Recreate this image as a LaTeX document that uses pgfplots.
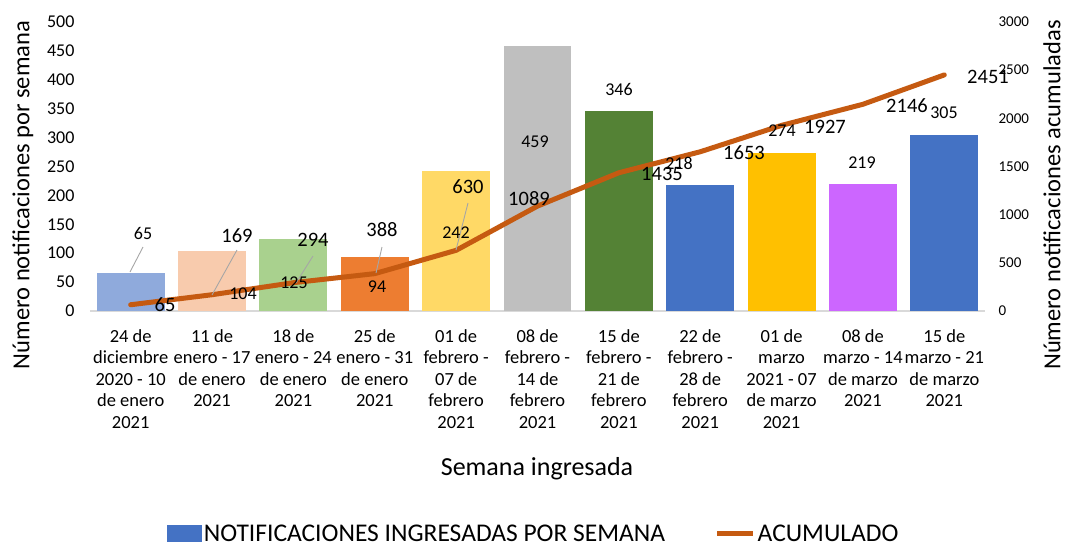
\documentclass[border=0pt]{standalone}
\usepackage{pgfplots}
\pgfplotsset{compat=1.18}
\usepackage{fontspec}
\setmainfont{Carlito}
\definecolor{c1}{HTML}{8FAADC}
\definecolor{c2}{HTML}{F8CBAD}
\definecolor{c3}{HTML}{A9D18E}
\definecolor{c4}{HTML}{ED7D31}
\definecolor{c5}{HTML}{FFD966}
\definecolor{c6}{HTML}{BFBFBF}
\definecolor{c7}{HTML}{548235}
\definecolor{c8}{HTML}{4472C4}
\definecolor{c9}{HTML}{FFC000}
\definecolor{c10}{HTML}{CC66FF}
\definecolor{acum}{HTML}{C55A11}
\definecolor{leader}{HTML}{A6A6A6}

% label helpers, positions in picture pixels (origin top left)
\newcommand{\barlbl}[3]{\node[font=\fontsize{18}{20}\selectfont] at ({#1-90},{311-#2}) {#3};}
\newcommand{\acclbl}[3]{\node[font=\fontsize{20.5}{22}\selectfont] at ({#1-90},{311-#2}) {#3};}
\newcommand{\leader}[4]{\draw[leader, line width=0.9pt] ({#1-90},{311-#2}) -- ({#3-90},{311-#4});}

\begin{document}
\begin{tikzpicture}
\useasboundingbox (-90pt,-231pt) rectangle (977pt,311pt);
\begin{axis}[
  at={(0pt,0pt)}, anchor=south west,
  width=895pt, height=289pt, scale only axis,
  xmin=-0.5, xmax=10.5, ymin=0, ymax=500,
  ytick={0,50,...,500},
  xtick={0,...,10},
  xticklabels={{24 de\\diciembre\\2020 - 10\\de enero\\2021},
    {11 de\\enero - 17\\de enero\\2021},
    {18 de\\enero - 24\\de enero\\2021},
    {25 de\\enero - 31\\de enero\\2021},
    {01 de\\febrero -\\07 de\\febrero\\2021},
    {08 de\\febrero -\\14 de\\febrero\\2021},
    {15 de\\febrero -\\21 de\\febrero\\2021},
    {22 de\\febrero -\\28 de\\febrero\\2021},
    {01 de\\marzo\\2021 - 07\\de marzo\\2021},
    {08 de\\marzo - 14\\de marzo\\2021},
    {15 de\\marzo - 21\\de marzo\\2021}},
  xticklabel style={align=center, font=\fontsize{18.5}{21.5}\selectfont, yshift=-15pt},
  yticklabel style={font=\fontsize{18}{20}\selectfont, xshift=-12pt},
  /pgf/number format/assume math mode=true,
  axis line style={draw=none},
  tick style={draw=none},
  legend style={at={(0.496,-0.77)}, anchor=center, draw=none, fill=none,
    legend columns=2, font=\fontsize{25.5}{28}\selectfont,
    /tikz/every even column/.append style={column sep=48pt}},
  legend cell align=left,
]
\draw[black!15, line width=1.2pt] (rel axis cs:0,0) -- (rel axis cs:1,0);
\addplot[ybar, bar width=0.835, bar shift=0pt, fill=c1, draw=none, forget plot] coordinates {(0,65)};
\addplot[ybar, bar width=0.835, bar shift=0pt, fill=c2, draw=none, forget plot] coordinates {(1,104)};
\addplot[ybar, bar width=0.835, bar shift=0pt, fill=c3, draw=none, forget plot] coordinates {(2,125)};
\addplot[ybar, bar width=0.835, bar shift=0pt, fill=c4, draw=none, forget plot] coordinates {(3,94)};
\addplot[ybar, bar width=0.835, bar shift=0pt, fill=c5, draw=none, forget plot] coordinates {(4,242)};
\addplot[ybar, bar width=0.835, bar shift=0pt, fill=c6, draw=none, forget plot] coordinates {(5,459)};
\addplot[ybar, bar width=0.835, bar shift=0pt, fill=c7, draw=none, forget plot] coordinates {(6,346)};
\addplot[ybar, bar width=0.835, bar shift=0pt, fill=c8, draw=none, forget plot] coordinates {(7,218)};
\addplot[ybar, bar width=0.835, bar shift=0pt, fill=c9, draw=none, forget plot] coordinates {(8,274)};
\addplot[ybar, bar width=0.835, bar shift=0pt, fill=c10, draw=none, forget plot] coordinates {(9,219)};
\addplot[ybar, bar width=0.835, bar shift=0pt, fill=c8, draw=none, forget plot] coordinates {(10,305)};
\addlegendimage{legend image code/.code={\fill[c8] (0pt,-8pt) rectangle (34pt,8pt);}}
\addlegendentry{NOTIFICACIONES INGRESADAS POR SEMANA}
\addlegendimage{legend image code/.code={\draw[acum, line width=4.5pt] (0pt,0pt) -- (36pt,0pt);}}
\addlegendentry{ACUMULADO}
\end{axis}
\begin{axis}[
  at={(0pt,0pt)}, anchor=south west,
  width=895pt, height=289pt, scale only axis,
  xmin=-0.5, xmax=10.5, ymin=0, ymax=3000,
  ytick={0,500,...,3000},
  hide x axis,
  axis y line*=right,
  y axis line style={draw=none},
  tick style={draw=none},
  yticklabel style={font=\fontsize{15}{18}\selectfont, anchor=west, xshift=10pt},
  /pgf/number format/assume math mode=true,
  /pgf/number format/1000 sep={},
]
\addplot[acum, line width=5pt, line join=round, line cap=round] coordinates {
  (0,65) (1,169) (2,294) (3,388) (4,630) (5,1089)
  (6,1435) (7,1653) (8,1927) (9,2146) (10,2451)};
\end{axis}
\begin{scope}[x=1pt, y=1pt]
% leader lines
\leader{130}{272}{143}{247}
\leader{212}{295}{237}{250}
\leader{296}{283}{313}{256}
\leader{376}{273}{382}{247}
\leader{456}{250}{468}{203}
% weekly labels
\barlbl{143}{233}{65}
\barlbl{243}{294}{104}
\barlbl{294}{283}{125}
\barlbl{377}{287}{94}
\barlbl{456}{233}{242}
\barlbl{535}{142}{459}
\barlbl{619}{89}{346}
\barlbl{679}{163}{218}
\barlbl{782}{131}{274}
\barlbl{862}{163}{219}
\barlbl{944}{113}{305}
% cumulative labels
\acclbl{165}{305}{65}
\acclbl{237}{236}{169}
\acclbl{313}{240}{294}
\acclbl{382}{230}{388}
\acclbl{468}{187}{630}
\acclbl{529}{199}{1089}
\acclbl{662}{174}{1435}
\acclbl{744}{153}{1653}
\acclbl{825}{127}{1927}
\acclbl{907}{106}{2146}
\acclbl{988}{77}{2451}
% axis titles
\node[font=\fontsize{24.5}{28}\selectfont, rotate=90] at ({23-90},{311-195}) {Número notificaciones por semana};
\node[font=\fontsize{24.5}{28}\selectfont, rotate=90, inner sep=1pt] at ({1052-90},{311-195}) {Número notificaciones acumuladas};
\node[font=\fontsize{26}{28}\selectfont] at ({537-90},{311-469}) {Semana ingresada};
\end{scope}
\end{tikzpicture}
\end{document}
